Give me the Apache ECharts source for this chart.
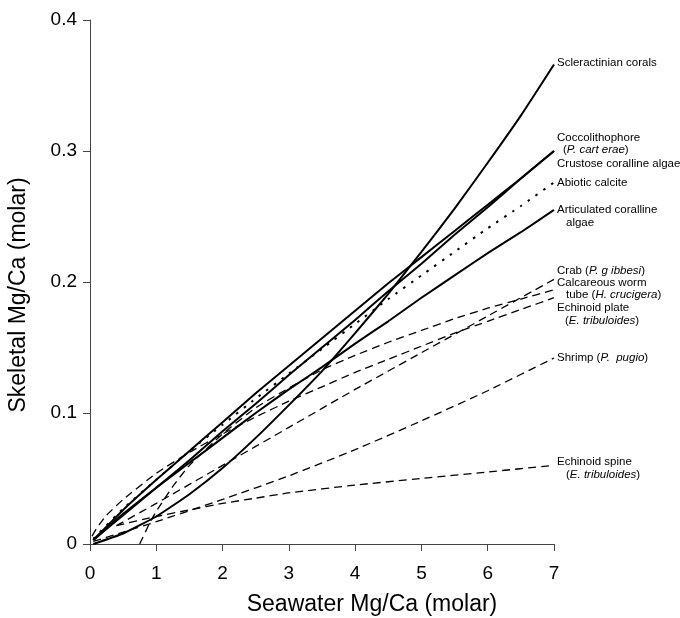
<html>
<head>
  <meta charset="utf-8">
  <title>Skeletal vs seawater Mg/Ca</title>
</head>
<body style="margin:0;background:#fff;">
<div id="main" style="width:680px;height:618px;"></div>
<script src="https://cdn.jsdelivr.net/npm/echarts@6/dist/echarts.min.js"></script>
<script>
// seawater Mg/Ca sample points (x) and skeletal Mg/Ca (y)
var xBundle = [0.05, 0.5, 1, 1.5, 2, 2.5, 3, 3.5, 4, 4.5, 5, 5.5, 6, 6.5, 7];
var scleractinian = [0.000, 0.008, 0.021, 0.038, 0.058, 0.081, 0.106, 0.132, 0.161, 0.191, 0.223, 0.256, 0.291, 0.327, 0.366];
var coccolithophore = [0.003, 0.026, 0.049, 0.071, 0.093, 0.115, 0.136, 0.157, 0.178, 0.199, 0.219, 0.239, 0.259, 0.279, 0.300];
var crustose = [0.003, 0.022, 0.043, 0.064, 0.086, 0.107, 0.129, 0.150, 0.171, 0.193, 0.214, 0.236, 0.257, 0.279, 0.300];
var abiotic = [0.004, 0.027, 0.049, 0.071, 0.091, 0.111, 0.130, 0.149, 0.168, 0.187, 0.205, 0.223, 0.241, 0.258, 0.276];
var articulated = [0.003, 0.023, 0.043, 0.062, 0.081, 0.100, 0.118, 0.135, 0.153, 0.170, 0.188, 0.205, 0.222, 0.238, 0.255];

var xPlate = [0.03, 0.1, 0.25, 0.5, 1, 1.5, 2, 2.5, 3, 3.5, 4, 4.5, 5, 5.5, 6, 6.5, 7];
var echinoidPlate = [0.006, 0.012, 0.022, 0.034, 0.054, 0.070, 0.084, 0.097, 0.109, 0.120, 0.131, 0.141, 0.151, 0.161, 0.170, 0.179, 0.188];

var xWorm = [0.75, 0.9, 1, 1.25, 1.5, 2, 2.5, 3, 3.5, 4, 4.5, 5, 5.5, 6, 6.5, 7];
var wormTube = [0, 0.016, 0.025, 0.044, 0.060, 0.084, 0.104, 0.119, 0.133, 0.144, 0.154, 0.163, 0.172, 0.180, 0.187, 0.194];

var xCrab = [0.4, 1, 2, 3, 4, 5, 6, 7];
var crab = [0.014, 0.031, 0.060, 0.089, 0.118, 0.146, 0.174, 0.202];

var xShrimp = [0.05, 0.5, 1, 2, 3, 4, 5, 6, 7];
var shrimp = [0.002, 0.009, 0.017, 0.034, 0.052, 0.072, 0.094, 0.117, 0.142];

var xSpine = [0.4, 1, 1.5, 2, 2.5, 3, 4, 5, 6, 7];
var echinoidSpine = [0.014, 0.021, 0.026, 0.031, 0.035, 0.039, 0.045, 0.050, 0.055, 0.060];

function pairs(xs, ys) {
  return xs.map(function (x, i) { return [x, ys[i]]; });
}

var FONT = 'Liberation Sans, Arial, sans-serif';
var solid = { color: '#000', width: 2, type: 'solid' };
var dashed = { color: '#000', width: 1.3, type: [8, 5] };
var dotted = { color: '#000', width: 2, type: [2.5, 7] };

function line(name, xs, ys, style) {
  return {
    name: name, type: 'line', data: pairs(xs, ys),
    showSymbol: false, symbol: 'none', smooth: 0.15,
    lineStyle: style, silent: true
  };
}

// right-hand labels
function label(x, y, text) {
  return {
    type: 'text', x: x, y: y,
    style: {
      text: text, fill: '#000', font: '11.5px ' + FONT,
      textVerticalAlign: 'middle',
      rich: {
        i: { fontStyle: 'italic', fontSize: 11.5, fontFamily: FONT },
        n: { fontSize: 11.5, fontFamily: FONT }
      }
    }
  };
}

var chart = echarts.init(document.getElementById('main'));
var option = {
  animation: false,
  backgroundColor: '#fff',
  grid: { left: 90, right: 126, top: 20, bottom: 74 },
  xAxis: {
    type: 'value', min: 0, max: 7, interval: 1,
    axisLine: { lineStyle: { color: '#444', width: 1 } },
    axisTick: { length: 7, lineStyle: { color: '#444' } },
    axisLabel: { color: '#000', fontSize: 19, fontFamily: FONT, margin: 20 },
    splitLine: { show: false }
  },
  yAxis: {
    type: 'value', min: 0, max: 0.4, interval: 0.1,
    axisLine: { show: true, lineStyle: { color: '#444', width: 1 } },
    axisTick: { show: true, length: 7, lineStyle: { color: '#444' } },
    axisLabel: { color: '#000', fontSize: 19, fontFamily: FONT, margin: 13,
      formatter: function (v) { return v === 0 ? '0' : v.toFixed(1); } },
    splitLine: { show: false }
  },
  series: [
    line('Scleractinian corals', xBundle, scleractinian, solid),
    line('Coccolithophore', xBundle, coccolithophore, solid),
    line('Crustose coralline algae', xBundle, crustose, solid),
    line('Abiotic calcite', xBundle, abiotic, dotted),
    line('Articulated coralline algae', xBundle, articulated, solid),
    line('Crab', xCrab, crab, dashed),
    line('Calcareous worm tube', xWorm, wormTube, dashed),
    line('Echinoid plate', xPlate, echinoidPlate, dashed),
    line('Shrimp', xShrimp, shrimp, dashed),
    line('Echinoid spine', xSpine, echinoidSpine, dashed)
  ],
  graphic: [
    { type: 'text', x: 372, y: 605,
      style: { text: 'Seawater Mg/Ca (molar)', fill: '#000', font: '23px ' + FONT,
        textAlign: 'center', textVerticalAlign: 'middle' } },
    { type: 'text', x: 19, y: 295, rotation: Math.PI / 2,
      style: { text: 'Skeletal Mg/Ca (molar)', fill: '#000', font: '23px ' + FONT,
        textAlign: 'center', textVerticalAlign: 'middle' } },
    label(557, 63, 'Scleractinian corals'),
    label(557, 138, 'Coccolithophore'),
    label(563, 149.5, '{n|(}{i|P. cart erae}{n|)}'),
    label(557, 164, 'Crustose coralline algae'),
    label(557, 183, 'Abiotic calcite'),
    label(557, 210, 'Articulated coralline'),
    label(566, 222.5, 'algae'),
    label(557, 270.5, '{n|Crab (}{i|P. g ibbesi}{n|)}'),
    label(557, 283, 'Calcareous worm'),
    label(566, 295, '{n|tube (}{i|H. crucigera}{n|)}'),
    label(557, 307.5, 'Echinoid plate'),
    label(565, 320.5, '{n|(}{i|E. tribuloides}{n|)}'),
    label(557, 358, '{n|Shrimp (}{i|P.  pugio}{n|)}'),
    label(557, 462, 'Echinoid spine'),
    label(566, 475, '{n|(}{i|E. tribuloides}{n|)}')
  ]
};
chart.setOption(option);
</script>
</body>
</html>
